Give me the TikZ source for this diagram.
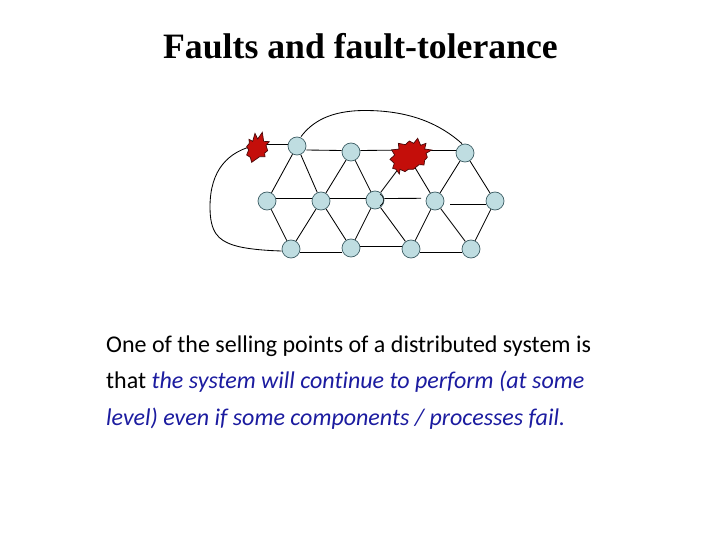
\documentclass[tikz,border=0pt]{standalone}
\usepackage{fontspec}
\usetikzlibrary{backgrounds}
\setmainfont{Liberation Serif}
\newfontfamily\bodyfont[Ligatures=NoCommon]{Carlito}
\definecolor{nodefill}{HTML}{BFDDE1}
\definecolor{nodeline}{HTML}{3F5F66}
\definecolor{burstred}{HTML}{C40E0A}
\definecolor{burstline}{HTML}{4A0808}
\definecolor{bodyblue}{HTML}{1C1CA0}
\tikzset{
 netnode/.style={circle,draw=nodeline,fill=nodefill,line width=0.7pt,minimum size=18pt,inner sep=0pt},
 link/.style={draw=black,line width=0.85pt},
 burst/.style={draw=burstline,fill=burstred,line width=0.7pt,line join=miter},
 bodytext/.style={anchor=base west,inner sep=0pt,font=\bodyfont\fontsize{24}{26}\selectfont}
}
\begin{document}
\begin{tikzpicture}[x=1pt,y=-1pt]
\useasboundingbox (0,0) rectangle (720,540);
\node[anchor=base,inner sep=0pt,font=\fontsize{35.7}{38}\selectfont\bfseries] (title) at (360.5,58.5) {Faults and fault-tolerance};
\coordinate (b1) at (257,147);
\coordinate (b2) at (408,156);
\coordinate (g1) at (421,198.3);
\coordinate (g2) at (450,204);
\node[netnode] (t1) at (297,146) {};
\node[netnode] (t2) at (351,152) {};
\node[netnode] (t4) at (465,153) {};
\node[netnode] (m1) at (267,201) {};
\node[netnode] (m2) at (321,201) {};
\node[netnode] (m3) at (375,200) {};
\node[netnode] (m4) at (435,201) {};
\node[netnode] (m5) at (495,201) {};
\node[netnode] (u1) at (291,249) {};
\node[netnode] (u2) at (351,248) {};
\node[netnode] (u3) at (411,249) {};
\node[netnode] (u4) at (471,249) {};
\begin{pgfonlayer}{background}
\fill[white] (0,0) rectangle (720,540);
\draw[link] ([yshift=3pt]b1) -- ([yshift=2pt]t1.west);
\draw[link] ([yshift=-4pt]t1.east) -- ([yshift=1.5pt]t2.west);
\draw[link] ([yshift=1.5pt]t2.east) -- ([yshift=6pt]b2);
\draw[link] ([yshift=6pt]b2) -- ([yshift=3pt]t4.west);
\draw[link] (t1) -- (m1);
\draw[link] (t1) -- (m2);
\draw[link] (t2) -- (m2);
\draw[link] (t2) -- (m3);
\draw[link] (b2) -- (m3);
\draw[link] (b2) -- (m4);
\draw[link] (t4) -- (m4);
\draw[link] (t4) -- (m5);
\draw[link] ([yshift=2.5pt]m1.east) -- ([yshift=2.5pt]m2.west);
\draw[link] ([yshift=2.5pt]m2.east) -- ([yshift=1.5pt]m3.west);
\draw[link] ([yshift=1.5pt]m3.east) -- (g1);
\draw[link] (g2) -- ([yshift=-3pt]m5.west);
\draw[link] (m1) -- (u1);
\draw[link] (m2) -- (u1);
\draw[link] (m2) -- (u2);
\draw[link] (m3) -- (u2);
\draw[link] (m3) -- (u3);
\draw[link] (m4) -- (u3);
\draw[link] (m4) -- (u4);
\draw[link] (m5) -- (u4);
\draw[link] ([yshift=-3pt]u1.east) -- ([yshift=-4pt]u2.west);
\draw[link] ([yshift=2pt]u2.east) -- ([yshift=3pt]u3.west);
\draw[link] ([yshift=-3pt]u3.east) -- ([yshift=-3pt]u4.west);
\draw[link] ([xshift=4pt]t1.north) .. controls (312,122) and (330,110.5) .. (365,110.5) .. controls (410,110.5) and (440,124) .. ([xshift=-3pt]t4.north);
\draw[link] ([yshift=2pt]b1) .. controls (228,151) and (210,170) .. (210,207) .. controls (210,232) and (218,240) .. (233,245) .. controls (245,249) and (265,250.5) .. ([yshift=-2pt]u1.west);
\end{pgfonlayer}
\draw[link,line width=0.6pt] (380,194) arc[start angle=-60,end angle=60,radius=7];
\begin{scope}[shift={(200,100)},x=0.3333pt,y=-0.3333pt]
\path[burst] (147,118) -- (158,124) -- (165,100) -- (173,117) -- (187,97) -- (191,124) -- (208,125) -- (198,136) -- (203,152) -- (194,159) -- (195,170) -- (179,170) -- (155,187) -- (151,172) -- (140,165) -- (146,150) -- (140,140) -- (148,130) -- cycle;
\end{scope}
\begin{scope}[shift={(350,100)},x=0.3333pt,y=-0.3333pt]
\path[burst] (145,130) -- (166,134) -- (178,123) -- (191,130) -- (203,115) -- (212,136) -- (228,130) -- (224,147) -- (245,150) -- (228,160) -- (232,172) -- (224,181) -- (222,195) -- (207,194) -- (190,208) -- (175,208) -- (165,215) -- (150,208) -- (148,222) -- (138,208) -- (128,205) -- (133,190) -- (120,178) -- (134,165) -- (125,150) -- (147,147) -- cycle;
\end{scope}
\node[bodytext] (l1) at (106,352) {One of the selling points of a distributed system is};
\node[bodytext] (l2) at (106,388.5) {that \textcolor{bodyblue}{\itshape the system will continue to perform (at some}};
\node[bodytext,text=bodyblue] (l3) at (106,425) {\itshape level) even if some components / processes fail.};
\end{tikzpicture}
\end{document}
